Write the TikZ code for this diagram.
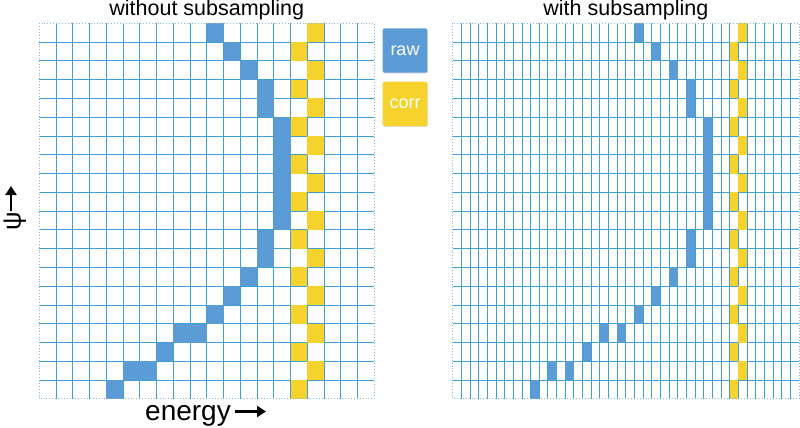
\documentclass[tikz,border=0pt]{standalone}
\usepackage{fontspec}
\setmainfont{Liberation Sans}
\usetikzlibrary{arrows.meta,shadows}
\definecolor{gridblue}{RGB}{64,158,214}
\definecolor{edgeblue}{RGB}{130,185,222}
\definecolor{rawblue}{RGB}{92,156,214}
\definecolor{corryellow}{RGB}{246,211,44}
\begin{document}
\begin{tikzpicture}[x=1pt,y=-1pt,
  gridline/.style={gridblue,line width=0.9pt},
  edgeline/.style={edgeblue,line width=0.9pt,dotted},
  rawcell/.style={fill=rawblue},
  corrcell/.style={fill=corryellow},
  legendbox/.style={rounded corners=2pt, minimum width=44.6pt, minimum height=44.4pt, inner sep=0pt,
    text=white, font=\fontsize{18}{18}\selectfont,
    drop shadow={opacity=0.25, shadow xshift=0.6pt, shadow yshift=-1pt}},
  title/.style={font=\fontsize{21.5}{21.5}\selectfont, anchor=base, inner sep=0pt},
  axislabel/.style={font=\fontsize{28}{28}\selectfont, inner sep=0pt},
  axisarrow/.style={-{Triangle[length=9pt,width=11pt]}, line width=2.4pt}
]
\useasboundingbox (0,0) rectangle (800,428);
\def\LX{39.3}
\def\LW{16.75}
\def\TY{23.3}
\def\RH{18.78}
\def\RX{452.7}
\def\RW{8.6575}
% grid lines
\foreach \i in {1,...,19} {
  \draw[gridline] ({\LX+\i*\LW},\TY) -- ({\LX+\i*\LW},{\TY+20*\RH});
  \draw[gridline] (\LX,{\TY+\i*\RH}) -- ({\LX+20*\LW},{\TY+\i*\RH});
  \draw[gridline] (\RX,{\TY+\i*\RH}) -- ({\RX+40*\RW},{\TY+\i*\RH});
}
\foreach \i in {1,...,39} {
  \draw[gridline] ({\RX+\i*\RW},\TY) -- ({\RX+\i*\RW},{\TY+20*\RH});
}
% raw cells
\foreach \r/\c in {0/10,1/11,2/12,3/13,4/13,5/14,6/14,7/14,8/14,9/14,10/14,11/13,12/13,13/12,14/11,15/10,16/8,16/9,17/7,18/5,18/6,19/4} {
  \fill[rawcell] ({\LX+\c*\LW},{\TY+\r*\RH}) rectangle ++(\LW,\RH);
  \fill[rawcell] ({\RX+(2*\c+1)*\RW},{\TY+\r*\RH}) rectangle ++(\RW,\RH);
}
% corr cells
\foreach \r in {0,...,19} {
  \pgfmathtruncatemacro\lc{16-mod(\r,2)}
  \pgfmathtruncatemacro\rc{33-mod(\r,2)}
  \fill[corrcell] ({\LX+\lc*\LW},{\TY+\r*\RH}) rectangle ++(\LW,\RH);
  \fill[corrcell] ({\RX+\rc*\RW},{\TY+\r*\RH}) rectangle ++(\RW,\RH);
}
% outer dotted borders
\draw[edgeline] (\LX,\TY) rectangle ({\LX+20*\LW},{\TY+20*\RH});
\draw[edgeline] (\RX,\TY) rectangle ({\RX+40*\RW},{\TY+20*\RH});
% titles
\node[title] (t1) at (206.8,15.5) {without subsampling};
\node[title] (t2) at (625.9,15.5) {with subsampling};
% legend
\node[legendbox, fill=rawblue] (raw) at (405,50.5) {raw};
\node[legendbox, fill=corryellow] (corr) at (405,103.85) {corr};
% axis labels
\node[axislabel, anchor=base west] (energy) at (145,420.7) {energy};
\coordinate (eA) at (235,411.5);
\coordinate (eB) at (266,411.5);
\draw[axisarrow] (eA) -- (eB);
\node[axislabel, font=\fontsize{26}{26}\selectfont, rotate=90, anchor=base west] (psi) at (20.5,230.5) {ψ};
\coordinate (pA) at (11,211);
\coordinate (pB) at (11,186);
\draw[axisarrow] (pA) -- (pB);
\end{tikzpicture}
\end{document}
